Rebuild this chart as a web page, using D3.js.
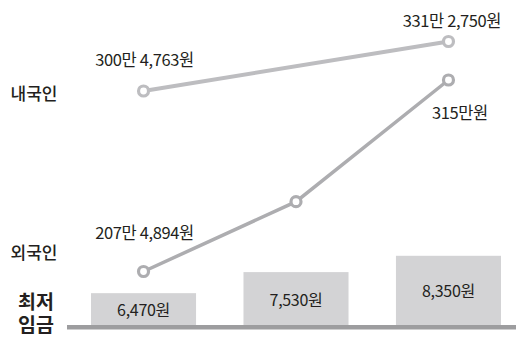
<!DOCTYPE html>
<html><head><meta charset="utf-8">
<script src="https://cdn.jsdelivr.net/npm/d3@7"></script>
<style>
body{margin:0;background:#fff;}
text{font-family:"Noto Sans CJK KR","Noto Sans",sans-serif;fill:#231f20;}
</style></head>
<body><svg id="c" width="516" height="337"></svg>
<script>
// data
const periods = ["p1","p2","p3"];
const minWage = [6470, 7530, 8350];
const minWageLabels = ["6,470원","7,530원","8,350원"];
// monthly wages in 만원
const domestic = [{i:0, v:300.4763}, {i:2, v:331.2750}];
const domesticLabels = ["300만 4,763원","331만 2,750원"];
const foreign = [207.4894, 246.7, 315];
const foreignLabels = ["207만 4,894원", null, "315만원"];
const rowLabels = ["내국인","외국인"];
const axisLabel = ["최저","임금"];

const svg = d3.select("#c");
const x = d3.scaleBand().domain(periods).range([91, 501]).paddingInner(0.311).paddingOuter(0);
const cx = i => x(periods[i]) + x.bandwidth()/2;
const yBar = d3.scaleLinear().domain([4868, 8350]).range([325, 255.8]);
const yDom = d3.scaleLinear().domain(d3.extent(domestic, d=>d.v)).range([91, 41.5]);
const yFor = d3.scaleLinear().domain(d3.extent(foreign)).range([271.5, 80]);

// bars
svg.selectAll("rect.bar").data(minWage).join("rect")
  .attr("class","bar")
  .attr("x",(d,i)=>x(periods[i])).attr("width",x.bandwidth())
  .attr("y",d=>yBar(d)).attr("height",d=>yBar.range()[0]-yBar(d))
  .attr("fill","#d3d3d5");
svg.selectAll("text.bl").data(minWage).join("text")
  .attr("class","bl")
  .attr("x",(d,i)=>cx(i)).attr("y",d=>(yBar(d)+325)/2)
  .attr("text-anchor","middle").attr("dominant-baseline","central")
  .attr("font-size",16).attr("letter-spacing",-0.3).text((d,i)=>minWageLabels[i]);

// baseline
svg.append("rect").attr("x",67).attr("y",325).attr("width",449).attr("height",4.5).attr("fill","#9d9d9f");

// lines
const lineDom = d3.line().x(d=>cx(d.i)).y(d=>yDom(d.v));
svg.append("path").datum(domestic).attr("d",lineDom)
  .attr("fill","none").attr("stroke","#bdbdc0").attr("stroke-width",4);
const lineFor = d3.line().x((d,i)=>cx(i)).y(d=>yFor(d));
svg.append("path").datum(foreign).attr("d",lineFor)
  .attr("fill","none").attr("stroke","#adadb0").attr("stroke-width",3.5);

svg.selectAll("circle.d").data(domestic).join("circle").attr("class","d")
  .attr("cx",d=>cx(d.i)).attr("cy",d=>yDom(d.v)).attr("r",5)
  .attr("fill","#fff").attr("stroke","#bdbdc0").attr("stroke-width",3.2);
svg.selectAll("circle.f").data(foreign).join("circle").attr("class","f")
  .attr("cx",(d,i)=>cx(i)).attr("cy",d=>yFor(d)).attr("r",5)
  .attr("fill","#fff").attr("stroke","#adadb0").attr("stroke-width",3.2);

// value labels
const vl = (xx, yy, t) => svg.append("text").attr("x",xx).attr("y",yy).attr("text-anchor","middle")
  .attr("font-size",16.5).attr("letter-spacing",-0.4).text(t);
vl(cx(0)+1, yDom(domestic[0].v)-25, domesticLabels[0]);
vl(cx(2)+3.5, yDom(domestic[1].v)-15, domesticLabels[1]);
vl(cx(0)+1, yFor(foreign[0])-33, foreignLabels[0]);
vl(cx(2)+11.5, yFor(foreign[2])+38.5, foreignLabels[2]);

// row labels
svg.append("text").attr("x",34).attr("y",100).attr("text-anchor","middle")
  .attr("font-size",17).attr("font-weight",500).text(rowLabels[0]);
svg.append("text").attr("x",34).attr("y",259).attr("text-anchor","middle")
  .attr("font-size",17).attr("font-weight",500).text(rowLabels[1]);
const al = svg.append("text").attr("text-anchor","middle")
  .attr("font-size",19.5).attr("font-weight",700);
al.selectAll("tspan").data(axisLabel).join("tspan")
  .attr("x",36).attr("y",(d,i)=>309+i*23).text(d=>d);
</script></body></html>
